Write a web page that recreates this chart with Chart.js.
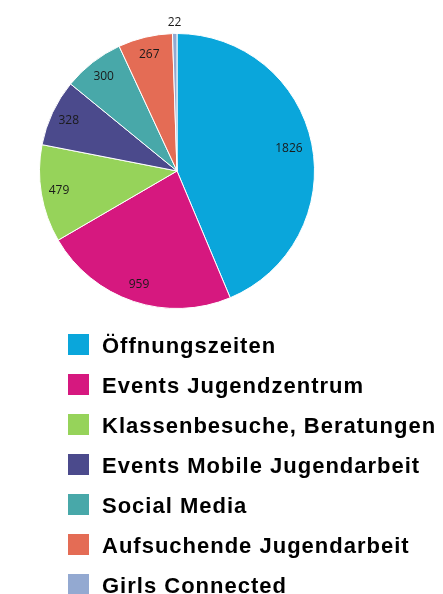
<!DOCTYPE html>
<html>
<head>
<meta charset="utf-8">
<script src="https://cdn.jsdelivr.net/npm/chart.js@4/dist/chart.umd.min.js"></script>
<style>
    body { margin: 0; background: #fff; width: 443px; height: 594px; overflow: hidden; }
    #pieBox { position: absolute; left: 0; top: 0; width: 354px; height: 342px; }
    #legend { position: absolute; left: 68px; top: 334px; margin: 0; padding: 0; list-style: none; }
    #legend li { height: 40px; display: flex; align-items: flex-start; white-space: nowrap;
        font: bold 22px "Liberation Sans", Arial, sans-serif; letter-spacing: 1px; color: #000; }
    #legend span.box { width: 21px; height: 21px; margin-right: 13px; flex: none; }
    #legend span.txt { line-height: 21px; margin-top: 1px; }
</style>
</head>
<body>
<div id="pieBox"><canvas id="angebotePie"></canvas></div>
<ul id="legend"></ul>
<script>
const labels = [
    "Öffnungszeiten",
    "Events Jugendzentrum",
    "Klassenbesuche, Beratungen",
    "Events Mobile Jugendarbeit",
    "Social Media",
    "Aufsuchende Jugendarbeit",
    "Girls Connected",
];
const counts = [1826, 959, 479, 328, 300, 267, 22];
const colors = ["#0aa6db", "#d6187f", "#96d35a", "#4b4a8c", "#48a8a9", "#e46c55", "#93a9d1"];

// value labels drawn on the slices (small ones go outside)
const sliceLabels = {
    id: "sliceLabels",
    afterDatasetsDraw(chart) {
        const ctx = chart.ctx;
        const meta = chart.getDatasetMeta(0);
        const total = counts.reduce((a, b) => a + b, 0);
        ctx.save();
        ctx.font = '12px "Open Sans", "Liberation Sans", sans-serif';
        ctx.fillStyle = "#1a1a1a";
        ctx.textAlign = "center";
        ctx.textBaseline = "middle";
        meta.data.forEach((arc, i) => {
            const p = arc.getProps(["x", "y", "startAngle", "endAngle", "outerRadius"], true);
            const mid = (p.startAngle + p.endAngle) / 2;
            const small = counts[i] / total < 0.02;
            let r = small ? p.outerRadius + 11 : p.outerRadius * 0.87;
            if (counts[i] / total > 0.4) r = p.outerRadius * 0.83;
            ctx.fillText(String(counts[i]), p.x + Math.cos(mid) * r, p.y + Math.sin(mid) * r);
        });
        ctx.restore();
    },
};

const ctx = document.getElementById("angebotePie").getContext("2d");
const pieChart = new Chart(ctx, {
    type: "pie",
    data: {
        labels: labels,
        datasets: [
            {
                data: counts,
                backgroundColor: colors,
                borderColor: "#ffffff",
                borderWidth: 1,
            },
        ],
    },
    options: {
        responsive: true,
        maintainAspectRatio: false,
        animation: false,
        layout: { padding: { left: 39, right: 39, top: 33, bottom: 33 } },
        plugins: {
            legend: { display: false },
            tooltip: { enabled: false },
        },
    },
    plugins: [sliceLabels],
});

const legendEl = document.getElementById("legend");
labels.forEach((name, i) => {
    const li = document.createElement("li");
    const box = document.createElement("span");
    box.className = "box";
    box.style.background = colors[i];
    const txt = document.createElement("span");
    txt.className = "txt";
    txt.textContent = name;
    li.appendChild(box);
    li.appendChild(txt);
    legendEl.appendChild(li);
});
</script>
</body>
</html>
